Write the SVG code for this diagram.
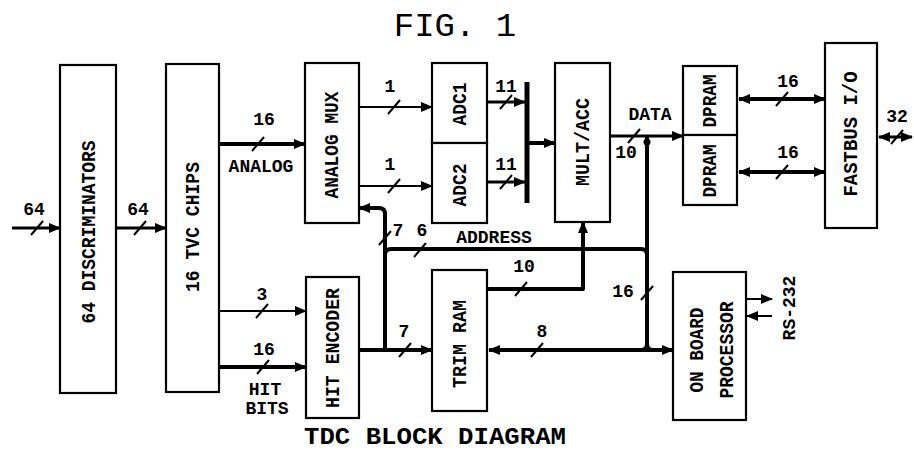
<svg xmlns="http://www.w3.org/2000/svg" width="914" height="454" viewBox="0 0 914 454">
<style>
.box{fill:#fff;stroke:#000;stroke-width:2.2}
.bl{font-family:"Liberation Mono",monospace;font-weight:bold;font-size:21px;fill:#000}
.lb{font-family:"Liberation Mono",monospace;font-weight:bold;font-size:18px;fill:#000;text-anchor:middle}
.w{fill:none;stroke:#000;stroke-linejoin:round}
.t1{stroke-width:2}
.t2{stroke-width:3}
.t3{stroke-width:4}
.sl{stroke:#000;stroke-width:2;fill:none}
</style>
<defs>
<marker id="ah" viewBox="0 0 12 10" refX="11" refY="5" markerWidth="12" markerHeight="10" orient="auto" markerUnits="userSpaceOnUse"><path d="M0,0 L12,5 L0,10 z"/></marker>
<marker id="as" viewBox="0 0 12 10" refX="11" refY="5" markerWidth="12" markerHeight="10" orient="auto-start-reverse" markerUnits="userSpaceOnUse"><path d="M0,0 L12,5 L0,10 z"/></marker>
</defs>
<rect width="914" height="454" fill="#fff"/>
<text x="455" y="36" font-family="'Liberation Mono',monospace" font-size="34" text-anchor="middle">FIG. 1</text>
<text x="435" y="444" font-family="'Liberation Mono',monospace" font-weight="bold" font-size="24" text-anchor="middle" textLength="262" lengthAdjust="spacingAndGlyphs">TDC BLOCK DIAGRAM</text>

<g id="disc"><rect class="box" x="60" y="65" width="56" height="328"/><text class="bl" transform="translate(89,232) rotate(-90)" text-anchor="middle" dominant-baseline="central" textLength="183" lengthAdjust="spacingAndGlyphs">64 DISCRIMINATORS</text></g>
<g id="tvc"><rect class="box" x="166" y="64" width="53" height="328"/><text class="bl" transform="translate(193,227) rotate(-90)" text-anchor="middle" dominant-baseline="central" textLength="130" lengthAdjust="spacingAndGlyphs">16 TVC CHIPS</text></g>
<g id="mux"><rect class="box" x="305" y="63" width="54" height="160"/><text class="bl" transform="translate(332,145) rotate(-90)" text-anchor="middle" dominant-baseline="central" textLength="107" lengthAdjust="spacingAndGlyphs">ANALOG MUX</text></g>
<g id="adc1"><rect class="box" x="432" y="63" width="55" height="80"/><text class="bl" transform="translate(460,104) rotate(-90)" text-anchor="middle" dominant-baseline="central" textLength="43" lengthAdjust="spacingAndGlyphs">ADC1</text></g>
<g id="adc2"><rect class="box" x="432" y="143" width="55" height="80"/><text class="bl" transform="translate(460,185) rotate(-90)" text-anchor="middle" dominant-baseline="central" textLength="43" lengthAdjust="spacingAndGlyphs">ADC2</text></g>
<g id="mult"><rect class="box" x="555" y="63" width="55" height="159"/><text class="bl" transform="translate(583,142) rotate(-90)" text-anchor="middle" dominant-baseline="central" textLength="88" lengthAdjust="spacingAndGlyphs">MULT/ACC</text></g>
<g id="dpram1"><rect class="box" x="683" y="66" width="54" height="69"/><text class="bl" transform="translate(710,101) rotate(-90)" text-anchor="middle" dominant-baseline="central" textLength="53" lengthAdjust="spacingAndGlyphs">DPRAM</text></g>
<g id="dpram2"><rect class="box" x="683" y="135" width="54" height="70"/><text class="bl" transform="translate(710,171) rotate(-90)" text-anchor="middle" dominant-baseline="central" textLength="53" lengthAdjust="spacingAndGlyphs">DPRAM</text></g>
<g id="fastbus"><rect class="box" x="825" y="43" width="52" height="185"/><text class="bl" transform="translate(851,134) rotate(-90)" text-anchor="middle" dominant-baseline="central" textLength="125" lengthAdjust="spacingAndGlyphs">FASTBUS I/O</text></g>
<g id="hitenc"><rect class="box" x="306" y="277" width="53" height="141"/><text class="bl" transform="translate(333,348) rotate(-90)" text-anchor="middle" dominant-baseline="central" textLength="120" lengthAdjust="spacingAndGlyphs">HIT ENCODER</text></g>
<g id="trimram"><rect class="box" x="432" y="270" width="55" height="141"/><text class="bl" transform="translate(460,344) rotate(-90)" text-anchor="middle" dominant-baseline="central" textLength="88" lengthAdjust="spacingAndGlyphs">TRIM RAM</text></g>
<g id="proc"><rect class="box" x="673" y="272" width="73" height="148"/><text class="bl" transform="translate(697,350) rotate(-90)" text-anchor="middle" dominant-baseline="central" textLength="85" lengthAdjust="spacingAndGlyphs">ON BOARD</text><text class="bl" transform="translate(727,350) rotate(-90)" text-anchor="middle" dominant-baseline="central" textLength="97" lengthAdjust="spacingAndGlyphs">PROCESSOR</text></g>

<g id="connectors">
<path class="w t2" d="M12,228 H60" marker-end="url(#ah)"/>
<path class="w t2" d="M116,228 H166" marker-end="url(#ah)"/>
<path class="w t3" d="M219,144 H305" marker-end="url(#ah)"/>
<path class="w t1" d="M219,311 H306" marker-end="url(#ah)"/>
<path class="w t3" d="M219,367 H306" marker-end="url(#ah)"/>
<path class="w t1" d="M359,107 H432" marker-end="url(#ah)"/>
<path class="w t1" d="M359,186 H432" marker-end="url(#ah)"/>
<path class="w t2" d="M487,102 H525" marker-end="url(#ah)"/>
<path class="w t2" d="M487,182 H525" marker-end="url(#ah)"/>
<path class="w" stroke-width="5" d="M527,82 V203"/>
<path class="w t3" d="M527,143 H555" marker-end="url(#ah)"/>
<path class="w t3" d="M359,350 H432" marker-end="url(#ah)"/>
<path class="w t3" d="M385,350 V214 Q385,208 379,208 H359" marker-end="url(#ah)"/>
<path class="w t3" d="M385,255 Q385,249 391,249 H641 Q647,249 647,255"/>
<path class="w t3" d="M487,289 H583 V222" marker-end="url(#ah)"/>
<path class="w t2" d="M610,136 H683" marker-end="url(#ah)"/>
<path class="w t3" d="M647,136 V344 Q647,350 653,350"/>
<path class="w t3" d="M647,344 Q647,350 641,350"/>
<circle cx="647" cy="142" r="3.5"/>
<path class="w t3" d="M489,350 H673" marker-start="url(#as)" marker-end="url(#ah)"/>
<path class="w t3" d="M739,99 H825" marker-start="url(#as)" marker-end="url(#ah)"/>
<path class="w t3" d="M739,172 H825" marker-start="url(#as)" marker-end="url(#ah)"/>
<path class="w t2" d="M879,137 H912" marker-start="url(#as)" marker-end="url(#ah)"/>
<path class="w t1" d="M746,299 H772" marker-end="url(#ah)"/>
<path class="w t1" d="M772,316 H747" marker-end="url(#ah)"/>
<g class="sl">
<path d="M31,235 L43,221"/>
<path d="M134,235 L146,221"/>
<path d="M252,151 L264,137"/>
<path d="M256,318 L268,304"/>
<path d="M257,374 L269,360"/>
<path d="M388,114 L400,100"/>
<path d="M388,193 L400,179"/>
<path d="M500,109 L512,95"/>
<path d="M500,189 L512,175"/>
<path d="M379,245 L391,231"/>
<path d="M399,357 L411,343"/>
<path d="M414,257 L426,243"/>
<path d="M515,296 L527,282"/>
<path d="M531,357 L543,343"/>
<path d="M628,143 L640,129"/>
<path d="M641,300 L653,286"/>
<path d="M776,106 L788,92"/>
<path d="M776,179 L788,165"/>
<path d="M891,144 L903,130"/>
</g>
</g>

<g id="labels">
<text class="lb" x="34" y="215">64</text>
<text class="lb" x="138" y="215">64</text>
<text class="lb" x="264" y="125">16</text>
<text class="lb" x="261" y="172">ANALOG</text>
<text class="lb" x="262" y="300">3</text>
<text class="lb" x="264" y="355">16</text>
<text class="lb" x="265" y="395">HIT</text>
<text class="lb" x="267" y="414">BITS</text>
<text class="lb" x="390" y="92">1</text>
<text class="lb" x="390" y="170">1</text>
<text class="lb" x="506" y="92">11</text>
<text class="lb" x="506" y="170">11</text>
<text class="lb" x="398" y="236">7</text>
<text class="lb" x="422" y="236">6</text>
<text class="lb" x="494" y="243">ADDRESS</text>
<text class="lb" x="524" y="272">10</text>
<text class="lb" x="404" y="337">7</text>
<text class="lb" x="542" y="337">8</text>
<text class="lb" x="650" y="120">DATA</text>
<text class="lb" x="626" y="158">10</text>
<text class="lb" x="623" y="297">16</text>
<text class="lb" x="788" y="87">16</text>
<text class="lb" x="788" y="158">16</text>
<text class="lb" x="897" y="122">32</text>
<text class="lb" transform="translate(790,308) rotate(-90)" dominant-baseline="central">RS-232</text>
</g>
</svg>
